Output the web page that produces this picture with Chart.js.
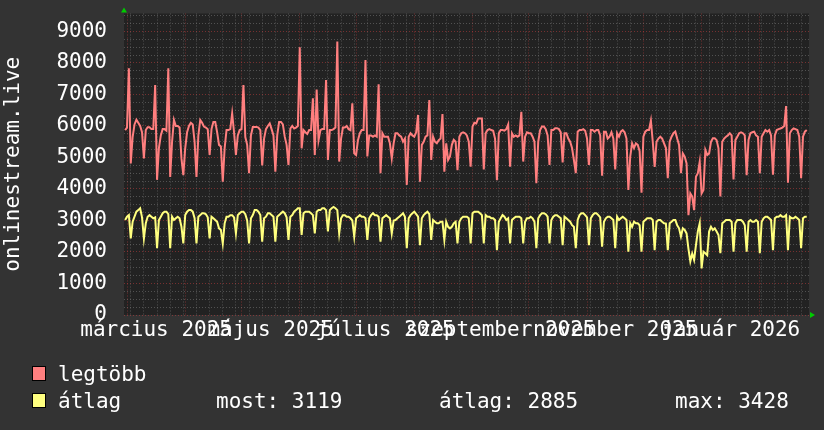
<!DOCTYPE html>
<html>
<head>
<meta charset="utf-8">
<script src="https://cdn.jsdelivr.net/npm/chart.js@4/dist/chart.umd.min.js"></script>
<style>
  html, body { margin: 0; padding: 0; background: #333333; }
  canvas { display: block; }
</style>
</head>
<body>
<canvas id="myChart" width="824" height="430"></canvas>
<script>
// day 0 = 2025-02-27, one value per day starting at day 1
var firstDay = 1;

var legtobb = [
  5870, 5950, 7830, 4810, 5650, 6050, 6200,
  6100, 6000, 5800, 4970, 5870, 5960, 5960,
  5900, 5900, 7300, 4290, 5300, 5700, 5900,
  5900, 5850, 7830, 4380, 5500, 6190, 6000,
  6000, 5950, 4970, 4440, 5300, 5800, 6000,
  6100, 6050, 5500, 4380, 5700, 6190, 6100,
  5980, 5950, 5900, 5080, 5900, 6130, 6130,
  5800, 5400, 5350, 4230, 5300, 5870, 5870,
  5900, 6400, 5800, 5080, 5700, 5870, 5900,
  7300, 5650, 5400, 4500, 5700, 5970, 5970,
  5970, 5950, 5870, 4750, 5600, 5900, 6000,
  6080, 5900, 5700, 4550, 5700, 6130, 6130,
  6050, 5660, 5400, 4760, 5920, 6000, 5920,
  5950, 6000, 8500, 5290, 5870, 5800, 5750,
  5870, 5870, 6880, 5080, 7160, 5550, 5870,
  5900, 5900, 7460, 4920, 5870, 5870, 5900,
  5950, 8680, 4870, 5600, 5950, 5950, 6000,
  5900, 5870, 6720, 5130, 5080, 5550, 5770,
  5870, 5870, 8090, 5030, 5700, 5700, 5660,
  5700, 5660, 7320, 4500, 5770, 5660, 5660,
  5660, 5450, 4970, 5450, 5770, 5770, 5700,
  5660, 5500, 5600, 4130, 5660, 5770, 5700,
  5660, 5800, 6350, 4230, 5400, 5500, 5660,
  5700, 6820, 4920, 5660, 5500, 5450, 5550,
  5600, 6380, 4550, 5450, 4920, 5030, 5400,
  5560, 5500, 4600, 5660, 5770, 5800, 5770,
  5700, 5500, 4710, 5980, 6100, 6080, 6240,
  6240, 6240, 4620, 5770, 5870, 5900, 5870,
  5850, 5600, 4280, 5770, 5870, 5870, 5850,
  5900, 6050, 4710, 5770, 5660, 5700, 5660,
  5700, 6450, 4870, 5660, 5800, 5770, 5770,
  5660, 5500, 4180, 5500, 5870, 5980, 5980,
  5900, 5700, 4760, 5870, 5870, 5930, 5930,
  5900, 5800, 4840, 5770, 5770, 5600, 5500,
  5300, 4920, 4500, 5820, 5870, 5870, 5900,
  5850, 5600, 4760, 5870, 5870, 5820, 5870,
  5870, 5700, 4420, 5820, 5820, 5600, 5660,
  5800, 5600, 4620, 5770, 5660, 5820, 5870,
  5800, 5600, 3970, 5030, 5450, 5300, 5450,
  5400, 5200, 3880, 5660, 5820, 5870, 5870,
  6170, 5500, 4700, 5500, 5600, 5660, 5600,
  5450, 5300, 4340, 5500, 5660, 5770, 5820,
  5600, 5400, 4500, 5130, 5030, 4810, 3170,
  3860, 3760, 3330, 4390, 4500, 4870, 3860,
  3970, 5240, 5080, 5130, 5500, 5610, 5610,
  5550, 5290, 3760, 5500, 5600, 5660, 5700,
  5770, 5700, 4300, 5550, 5660, 5770, 5800,
  5770, 5700, 4440, 5560, 5770, 5800, 5820,
  5700, 5660, 4500, 5660, 5770, 5870, 5820,
  5870, 5700, 4450, 5700, 5870, 5900, 5920,
  5950, 6000, 6630, 4200, 5770, 5870, 5920,
  5900, 5870, 5660, 4340, 5660, 5820, 5870
];

var atlag = [
  3015, 3120, 3170, 2430, 2960, 3120, 3280,
  3330, 3390, 3100, 2430, 2910, 3120, 3170,
  3120, 3070, 3100, 2120, 3015, 3120, 3230,
  3280, 3280, 3200, 2120, 3120, 3015, 3070,
  3120, 3070, 2800, 2270, 3170, 3280, 3330,
  3330, 3280, 3070, 2270, 3120, 3170, 3230,
  3230, 3200, 3100, 2430, 3120, 3070, 3015,
  2960, 2750, 2700, 2270, 2910, 3120, 3120,
  3170, 3170, 3100, 2590, 3170, 3230, 3280,
  3280, 3200, 3000, 2270, 3070, 3170, 3330,
  3330, 3280, 3170, 2330, 3070, 3120, 3230,
  3230, 3170, 3120, 2330, 3120, 3170, 3230,
  3280, 3230, 3100, 2380, 3120, 3170, 3280,
  3330, 3390, 3390, 2540, 3230, 3280, 3280,
  3280, 3230, 3170, 2590, 3280, 3330, 3330,
  3390, 3390, 3330, 2650, 3330, 3390, 3428,
  3390, 3330, 2590, 3070, 3170, 3170, 3120,
  3120, 3070, 3000, 2490, 3070, 3120, 3170,
  3120, 3120, 3070, 2380, 3070, 3170, 3230,
  3170, 3170, 3120, 2330, 3070, 3120, 3170,
  3120, 3070, 2590, 3000, 3015, 3070, 3120,
  3170, 3230, 3120, 2120, 3070, 3170, 3230,
  3280, 3200, 3120, 2220, 3070, 3170, 3230,
  3280, 3200, 2380, 3015, 2960, 2910, 2910,
  2960, 2960, 2380, 2960, 2800, 2750, 2800,
  2910, 2960, 2270, 2960, 3070, 3120, 3120,
  3120, 3070, 2270, 3230, 3280, 3280, 3280,
  3230, 3170, 2270, 3170, 3120, 3120, 3070,
  3070, 3015, 2060, 2960, 3070, 3170, 3120,
  3015, 3070, 2270, 3015, 3070, 3120, 3120,
  3120, 3070, 2270, 2960, 3070, 3070, 3120,
  3070, 2960, 2120, 3070, 3170, 3230, 3230,
  3200, 3120, 2270, 3015, 3120, 3170, 3170,
  3120, 3070, 2220, 3120, 3070, 3015, 2960,
  2850, 2800, 2120, 3015, 3170, 3230, 3230,
  3170, 3100, 2220, 3070, 3170, 3230, 3230,
  3170, 3100, 2170, 2960, 3070, 3120, 3120,
  3070, 3015, 2120, 3120, 3015, 3070, 3120,
  3070, 3015, 2010, 2910, 2800, 2960, 2910,
  2910, 2850, 2010, 2960, 3015, 3070, 3070,
  3070, 3015, 2060, 2960, 3015, 3015, 2960,
  2910, 2900, 2060, 2910, 2960, 3015, 3015,
  2850, 2750, 2490, 2750, 2700, 2590, 2100,
  1700, 1950, 1750, 2220, 2650, 2910, 1480,
  2010, 1960, 1900, 2650, 2800, 2700, 2750,
  2650, 2540, 1960, 2910, 2960, 3015, 3015,
  3015, 2960, 2010, 2910, 3015, 3015, 3015,
  2960, 2850, 2010, 2960, 3015, 2960, 2960,
  3015, 2960, 1960, 2960, 3070, 3120, 3120,
  3070, 3015, 2060, 3070, 3120, 3120, 3170,
  3120, 3120, 3170, 2060, 3120, 3070, 3070,
  3120, 3070, 3015, 2120, 3070, 3120, 3119
];

// first day of each month (day index), mar 2025 .. mar 2026
var monthStarts = [2, 33, 63, 94, 124, 155, 186, 216, 247, 277, 308, 339, 367];
var monthLabels = ['március 2025', 'május 2025', 'július 2025', 'szeptember 2025', 'november 2025', 'január 2026'];
var firstMonday = 4;
var yTicks = [0, 1000, 2000, 3000, 4000, 5000, 6000, 7000, 8000, 9000];
var yMax = 9570;
var legendNames = ['legtöbb', 'átlag'];
var legendStats = ['most: 3119', 'átlag: 2885', 'max: 3428'];

var FONT = 'DejaVu Sans Mono';
var RED = '#ff7f7f';
var YELLOW = '#ffff7f';
var MAJOR = 'rgba(255,70,70,0.38)';
var MINOR = 'rgba(140,140,140,0.45)';

function toPoints(arr) {
  var pts = [];
  for (var i = 0; i < arr.length; i++) {
    pts.push({x: firstDay + i, y: arr[i]});
  }
  return pts;
}

// x ticks: weekly grid, monthly grid, and label positions in the middle of every other month
var xLabelAt = {};
for (var m = 0; m < monthLabels.length; m++) {
  var mid = (monthStarts[2 * m] + monthStarts[2 * m + 1]) / 2;
  xLabelAt[mid] = monthLabels[m];
}
var xTickValues = [];
for (var d = firstMonday; d < 366; d += 7) xTickValues.push(d);
monthStarts.forEach(function (v) { if (xTickValues.indexOf(v) < 0 && v < 366) xTickValues.push(v); });
Object.keys(xLabelAt).forEach(function (k) { xTickValues.push(parseFloat(k)); });
xTickValues.sort(function (a, b) { return a - b; });

var bgPlugin = {
  id: 'bg',
  beforeDraw: function (chart) {
    var c = chart.ctx, a = chart.chartArea;
    c.save();
    c.fillStyle = '#333333';
    c.fillRect(0, 0, chart.width, chart.height);
    c.fillStyle = '#222222';
    c.fillRect(a.left, a.top, a.right - a.left, a.bottom - a.top);
    c.restore();
  },
  afterDraw: function (chart) {
    var c = chart.ctx, a = chart.chartArea;
    c.save();
    // axis arrows
    c.fillStyle = '#00cc00';
    c.beginPath();
    c.moveTo(a.left - 3, a.top - 1);
    c.lineTo(a.left + 3, a.top - 1);
    c.lineTo(a.left, a.top - 6);
    c.closePath();
    c.fill();
    c.beginPath();
    c.moveTo(a.right + 1, a.bottom - 3);
    c.lineTo(a.right + 1, a.bottom + 3);
    c.lineTo(a.right + 6, a.bottom);
    c.closePath();
    c.fill();

    // legend
    var colors = [RED, YELLOW];
    var rows = [381, 408];
    c.font = '21px "' + FONT + '"';
    c.textBaseline = 'alphabetic';
    c.textAlign = 'left';
    for (var i = 0; i < 2; i++) {
      c.fillStyle = colors[i];
      c.fillRect(32, rows[i] - 15, 14, 15);
      c.strokeStyle = '#000000';
      c.lineWidth = 1;
      c.strokeRect(32.5, rows[i] - 14.5, 13, 14);
      c.fillStyle = '#ffffff';
      c.fillText(legendNames[i], 58, rows[i]);
    }
    c.fillText(legendStats[0], 216, rows[1]);
    c.fillText(legendStats[1], 439, rows[1]);
    c.fillText(legendStats[2], 675, rows[1]);
    c.restore();
  }
};

var ctx = document.getElementById('myChart').getContext('2d');
var chart = new Chart(ctx, {
  type: 'line',
  data: {
    datasets: [{
      label: legendNames[0],
      data: toPoints(legtobb),
      borderColor: RED,
      borderWidth: 2,
      pointRadius: 0,
      tension: 0
    }, {
      label: legendNames[1],
      data: toPoints(atlag),
      borderColor: YELLOW,
      borderWidth: 2,
      pointRadius: 0,
      tension: 0
    }]
  },
  options: {
    responsive: false,
    animation: false,
    events: [],
    layout: { padding: { top: 13.5, right: 15, left: 0, bottom: 0 } },
    plugins: { legend: { display: false }, tooltip: { enabled: false } },
    scales: {
      x: {
        type: 'linear',
        min: 0.4,
        max: 365.2,
        afterBuildTicks: function (axis) {
          axis.ticks = xTickValues.map(function (v) { return {value: v}; });
        },
        afterFit: function (axis) {
          axis.height = 115;
          axis.paddingLeft = 0;
          axis.paddingRight = 0;
        },
        grid: {
          drawTicks: false,
          lineWidth: 1,
          color: function (c) {
            if (!c.tick) return 'transparent';
            var v = c.tick.value;
            if (monthStarts.indexOf(v) >= 0) return MAJOR;
            if (xLabelAt[v] !== undefined) return 'transparent';
            return MINOR;
          }
        },
        border: { display: false, dash: [1, 2] },
        ticks: {
          autoSkip: false,
          maxRotation: 0,
          padding: 3,
          color: '#ffffff',
          font: { family: FONT, size: 21 },
          callback: function (v) { return xLabelAt[v] !== undefined ? xLabelAt[v] : ''; }
        }
      },
      y: {
        min: 0,
        max: yMax,
        afterBuildTicks: function (axis) {
          var t = [];
          for (var v = 0; v <= 9500; v += 250) t.push({value: v});
          axis.ticks = t;
        },
        afterFit: function (axis) {
          axis.width = 124;
          axis.paddingTop = 0;
          axis.paddingBottom = 0;
        },
        grid: {
          drawTicks: false,
          lineWidth: 1,
          color: function (c) {
            if (!c.tick) return 'transparent';
            return c.tick.value % 1000 === 0 ? MAJOR : MINOR;
          }
        },
        border: { display: false, dash: [1, 2] },
        title: {
          display: true,
          text: 'onlinestream.live',
          color: '#ffffff',
          font: { family: FONT, size: 21, lineHeight: 1.05 },
          padding: { top: 3, bottom: 0 }
        },
        ticks: {
          autoSkip: false,
          padding: 17,
          color: '#ffffff',
          font: { family: FONT, size: 21 },
          callback: function (v) { return yTicks.indexOf(v) >= 0 ? String(v) : ''; }
        }
      }
    }
  },
  plugins: [bgPlugin]
});
</script>
</body>
</html>
